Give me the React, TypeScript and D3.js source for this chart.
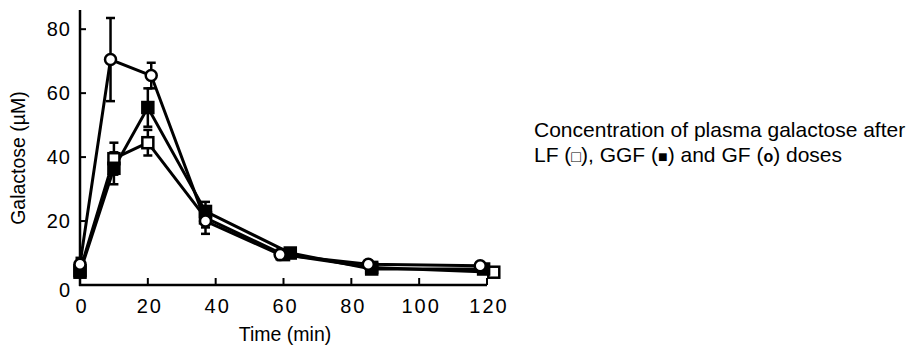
import React, { useEffect, useRef } from 'react';
import * as d3 from 'd3';

// sampling times (min), small offsets per series as in the figure
const lfTimes = [0, 10, 20, 37, 60, 86, 122];
const ggfTimes = [0, 10, 20, 37, 62, 86, 119];
const gfTimes = [0, 9, 21, 37, 59, 85, 118];

// plasma galactose (µM) and error bars
const lfValues = [4.5, 39.5, 44.5, 21, 9.5, 5.5, 4];
const lfErr = [1.5, 5, 4, 3, 1.5, 1, 0.8];
const ggfValues = [4, 36.5, 55.5, 23, 10, 5, 5];
const ggfErr = [1.5, 5, 6, 3, 1.5, 1, 1];
const gfValues = [6.5, 70.5, 65.5, 20, 9.5, 6.5, 6];
const gfErr = [2, 13, 4, 4, 1.5, 1, 1];

const xTicks = [0, 20, 40, 60, 80, 100, 120];
const yTicks = [0, 20, 40, 60, 80];

const captionLine1 = 'Concentration of plasma galactose after';
const captionLine2 = ['LF (', '\u25A1', '), GGF (', '\u25A0', ') and GF (', 'o', ') doses'];

export default function App() {
  const svgRef = useRef<SVGSVGElement>(null);

  useEffect(() => {
    if (!svgRef.current) return;
    const svg = d3.select(svgRef.current);
    svg.selectAll('*').remove();

    const font = 'Liberation Sans, Arial, Helvetica, sans-serif';
    const x = d3.scaleLinear().domain([0, 120]).range([80, 487]);
    const y = d3.scaleLinear().domain([0, 86]).range([285, 10]);

    // axes lines
    svg.append('line')
      .attr('x1', x(0)).attr('x2', x(0))
      .attr('y1', y(86)).attr('y2', y(0) + 1)
      .attr('stroke', '#000').attr('stroke-width', 2.5);
    svg.append('line')
      .attr('x1', x(0) - 1).attr('x2', x(120))
      .attr('y1', y(0)).attr('y2', y(0))
      .attr('stroke', '#000').attr('stroke-width', 2.5);

    // ticks point inward
    svg.selectAll('.xt')
      .data(xTicks.filter(d => d > 0))
      .enter().append('line')
      .attr('x1', d => x(d)).attr('x2', d => x(d))
      .attr('y1', y(0)).attr('y2', y(0) - 7)
      .attr('stroke', '#000').attr('stroke-width', 2);
    svg.selectAll('.yt')
      .data(yTicks.filter(d => d > 0))
      .enter().append('line')
      .attr('x1', x(0)).attr('x2', x(0) + 6)
      .attr('y1', d => y(d)).attr('y2', d => y(d))
      .attr('stroke', '#000').attr('stroke-width', 2);

    svg.selectAll('.xl')
      .data(xTicks)
      .enter().append('text')
      .attr('x', d => x(d) + 2)
      .attr('y', 313)
      .attr('text-anchor', 'middle')
      .attr('font-family', font)
      .attr('font-size', 20)
      .attr('letter-spacing', 2)
      .text(d => d);
    svg.selectAll('.yl')
      .data(yTicks)
      .enter().append('text')
      .attr('x', 71)
      .attr('y', d => (d === 0 ? 297 : y(d) + 7))
      .attr('text-anchor', 'end')
      .attr('font-family', font)
      .attr('font-size', 20)
      .attr('letter-spacing', 1)
      .text(d => d);

    svg.append('text')
      .attr('x', 285).attr('y', 341)
      .attr('text-anchor', 'middle')
      .attr('font-family', font)
      .attr('font-size', 19.5)
      .text('Time (min)');
    svg.append('text')
      .attr('transform', 'translate(25,158) rotate(-90)')
      .attr('text-anchor', 'middle')
      .attr('font-family', font)
      .attr('font-size', 19.5)
      .text('Galactose (\u00B5M)');

    const line = d3.line<[number, number]>().x(d => x(d[0])).y(d => y(d[1]));

    const series = [
      { times: lfTimes, values: lfValues, err: lfErr, shape: 'open' },
      { times: ggfTimes, values: ggfValues, err: ggfErr, shape: 'filled' },
      { times: gfTimes, values: gfValues, err: gfErr, shape: 'circle' },
    ];

    series.forEach(s => {
      const pts: [number, number][] = s.times.map((t, i) => [t, s.values[i]]);
      // error bars
      s.times.forEach((t, i) => {
        const cx = x(t);
        const top = y(s.values[i] + s.err[i]);
        const bot = y(s.values[i] - s.err[i]);
        svg.append('line').attr('x1', cx).attr('x2', cx).attr('y1', top).attr('y2', bot)
          .attr('stroke', '#000').attr('stroke-width', 2.5);
        [top, bot].forEach(yy => {
          svg.append('line').attr('x1', cx - 4.5).attr('x2', cx + 4.5).attr('y1', yy).attr('y2', yy)
            .attr('stroke', '#000').attr('stroke-width', 2.5);
        });
      });
      svg.append('path')
        .attr('d', line(pts))
        .attr('fill', 'none')
        .attr('stroke', '#000')
        .attr('stroke-width', 3);
    });

    series.forEach(s => {
      s.times.forEach((t, i) => {
        const cx = x(t);
        const cy = y(s.values[i]);
        if (s.shape === 'circle') {
          svg.append('circle').attr('cx', cx).attr('cy', cy).attr('r', 5.5)
            .attr('fill', '#fff').attr('stroke', '#000').attr('stroke-width', 2.5);
        } else {
          svg.append('rect').attr('x', cx - 5.5).attr('y', cy - 5.5).attr('width', 11).attr('height', 11)
            .attr('fill', s.shape === 'filled' ? '#000' : '#fff')
            .attr('stroke', '#000').attr('stroke-width', 2.5);
        }
      });
    });

    // caption
    svg.append('text')
      .attr('x', 534).attr('y', 137)
      .attr('font-family', font)
      .attr('font-size', 21)
      .text(captionLine1);
    const t2 = svg.append('text')
      .attr('x', 534).attr('y', 162)
      .attr('font-family', font)
      .attr('font-size', 21);
    captionLine2.forEach((part, i) => {
      t2.append('tspan')
        .attr('font-weight', i % 2 === 1 ? 'bold' : 'normal')
        .attr('font-size', i % 2 === 1 ? 16 : 21)
        .text(part);
    });
  }, []);

  return (
    <svg
      ref={svgRef}
      width={911}
      height={349}
      style={{ position: 'absolute', left: 0, top: 0, display: 'block', background: '#fff' }}
    />
  );
}
